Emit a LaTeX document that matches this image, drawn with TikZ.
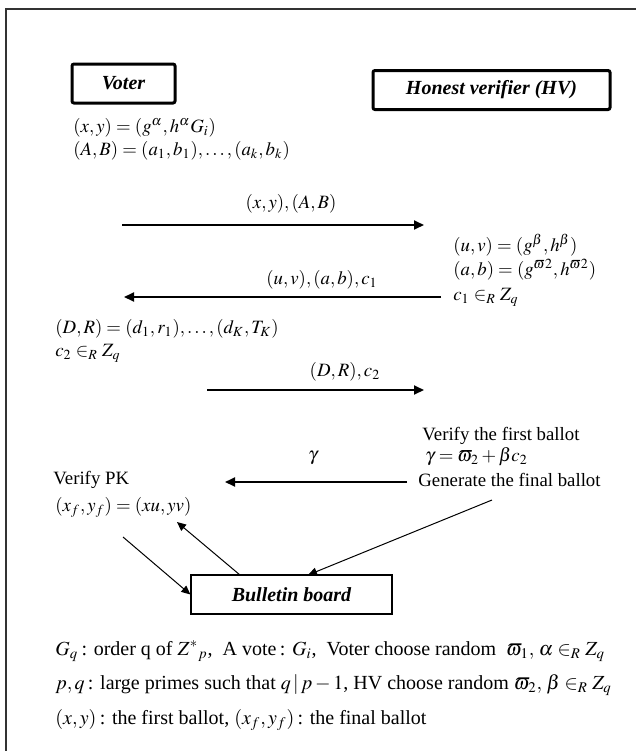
\documentclass[tikz,border=0pt]{standalone}
\usepackage{mathptmx}
\usepackage{fontspec}
\setmainfont{Liberation Serif}
\usetikzlibrary{arrows.meta}
\begin{document}
\begin{tikzpicture}[x=0.5pt, y=-0.5pt, every node/.style={font=\fontsize{9.4}{11}\selectfont, inner sep=0pt},
  party/.style={draw, line width=1.5pt, rounded corners=1pt, font=\fontsize{10}{12}\selectfont\bfseries\itshape, minimum height=19.5pt},
  txt/.style={anchor=west},
  note/.style={anchor=west, font=\fontsize{10}{12}\selectfont},
  msg/.style={-{Triangle[length=5pt,width=4.5pt]}, line width=0.9pt},
  post/.style={-{Triangle[length=4.5pt,width=4pt]}, line width=0.5pt}]
\useasboundingbox (0,0) rectangle (636,751);
\draw[line width=1.1pt, black!80] (6,751) -- (6,9) -- (636,9);
\node[party, minimum width=51.5pt] (voter) at (123.5,83.5) {Voter}; \node[party, minimum width=118.5pt] (hv) at (491.5,90) {Honest verifier (HV)};
\node[txt] (xy) at (73,128) {$(x, y) = (g^{\alpha}, h^{\alpha} G_i)$}; \node[txt] (ab) at (73,151) {$(A, B) = (a_1, b_1), \ldots, (a_k, b_k)$};
\coordinate (m1s) at (122,225); \coordinate (m1e) at (424,225);
\draw[msg] (m1s) -- (m1e); \node (m1) at (291,204) {$(x, y), (A, B)$};
\node[txt] (uv) at (453,245) {$(u, v) = (g^{\beta}, h^{\beta})$}; \node[txt] (abg) at (453,270) {$(a, b) = (g^{\varpi 2}, h^{\varpi 2})$}; \node[txt] (cone) at (453,297) {$c_1 \in_R Z_q$};
\coordinate (m2s) at (441,297); \coordinate (m2e) at (124,297);
\draw[msg] (m2s) -- (m2e); \node (m2) at (322,280) {$(u, v), (a, b), c_1$};
\node[txt] (dr) at (55,329) {$(D, R) = (d_1, r_1), \ldots, (d_K, T_K)$}; \node[txt] (ctwo) at (55,353) {$c_2 \in_R Z_q$};
\coordinate (m3s) at (207,390); \coordinate (m3e) at (424,390);
\draw[msg] (m3s) -- (m3e); \node (m3) at (345,372) {$(D, R), c_2$};
\node[txt] (verf) at (422,436) {Verify the first ballot}; \node[txt] (gam) at (425,457) {$\gamma = \varpi_2 + \beta c_2$}; \node[txt] (gen) at (418,480) {Generate the final ballot};
\coordinate (m4s) at (407,482); \coordinate (m4e) at (225,482);
\draw[msg] (m4s) -- (m4e); \node (m4) at (313,458) {$\gamma$};
\node[txt] (vpk) at (53,480) {Verify PK}; \node[txt] (xf) at (55,507) {$(x_f, y_f) = (xu, yv)$};
\node[draw, line width=0.6pt, minimum width=100.5pt, minimum height=19.5pt, font=\fontsize{10}{12}\selectfont\bfseries\itshape] (board) at (291.5,594.5) {Bulletin board};
\coordinate (p1) at (123,537); \coordinate (p2) at (240,575); \coordinate (p3) at (177,522); \coordinate (p4) at (492,500); \coordinate (p5) at (308,575);
\draw[post] (p1) -- (board.west); \draw[post] (p2) -- (p3); \draw[post] (p4) -- (p5);
\node[note] (notea) at (55,651) {$G_q$\,: order q of $Z^{*}{}_{p}$, \ A vote\,: $G_i$, \ Voter choose random \ ${\varpi}_1,\, \alpha \in_R Z_q$};
\node[note] (noteb) at (55,685) {$p, q$\,: large primes such that $q\,|\,p - 1$, HV choose random ${\varpi}_2,\, \beta \in_R Z_q$};
\node[note] (notec) at (55,720) {$(x, y)$\,: the first ballot, $(x_f, y_f)$\,: the final ballot};
\end{tikzpicture}
\end{document}
